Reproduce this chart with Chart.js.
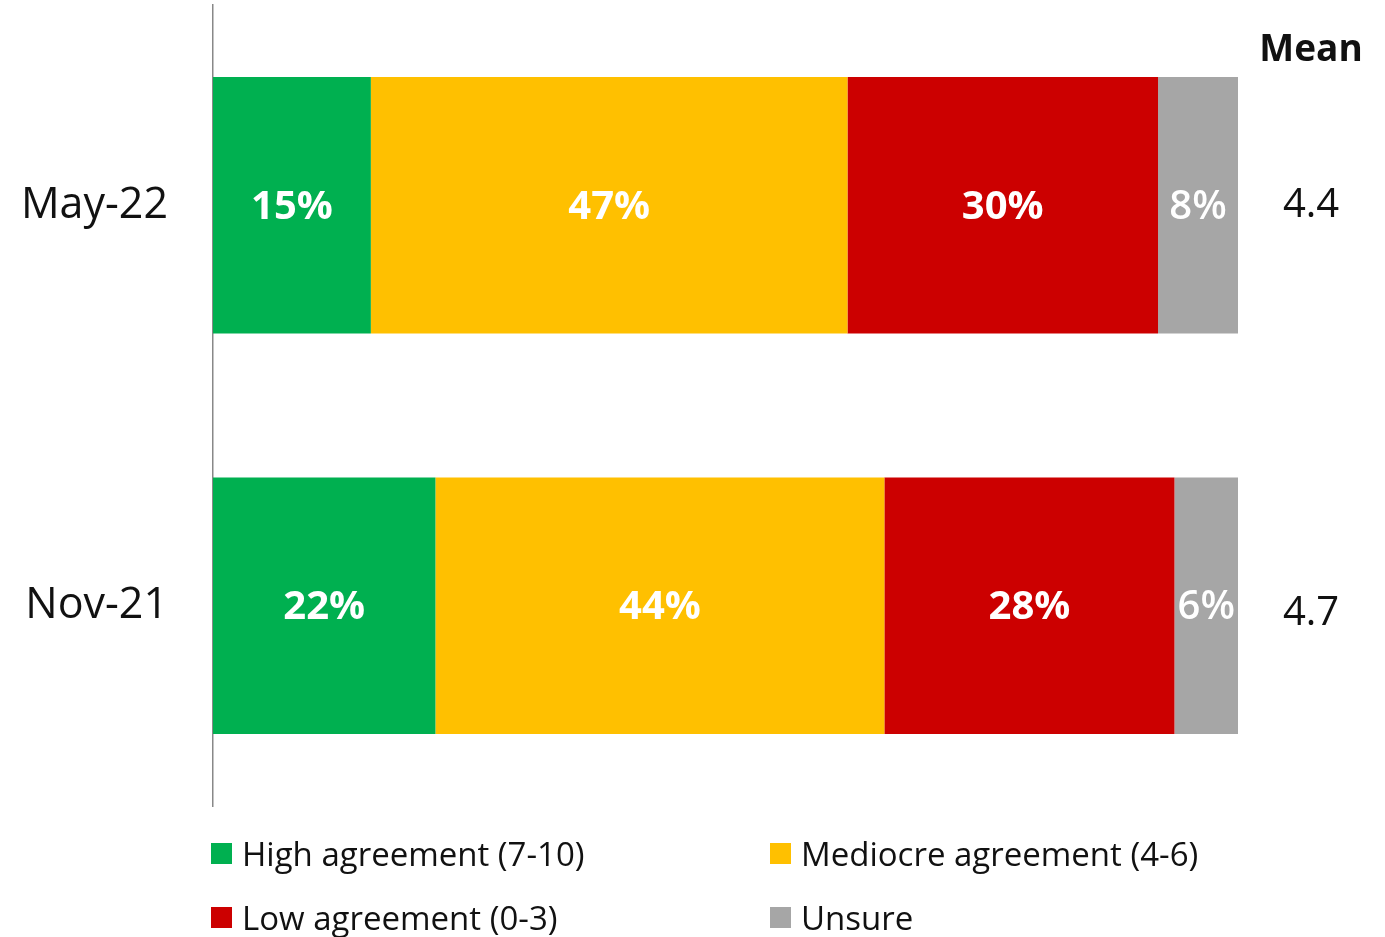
<!DOCTYPE html>
<html>
<head>
<meta charset="utf-8">
<script src="https://cdn.jsdelivr.net/npm/chart.js@4.4.1/dist/chart.umd.min.js"></script>
<style>
  html, body { margin: 0; padding: 0; background: #fff; }
  #wrap { position: relative; width: 1385px; height: 937px; }
  #legend { position: absolute; left: 211px; top: 831px; width: 1100px;
            font-family: "Open Sans", sans-serif; font-size: 33px; color: #111; }
  .item { position: absolute; display: flex; align-items: center; white-space: nowrap; }
  .box { width: 21px; height: 21px; margin-right: 10px; }
</style>
</head>
<body>
<div id="wrap">
  <canvas id="chart" width="1385" height="937"></canvas>
  <div id="legend"></div>
</div>
<script>
const categories = ['May-22', 'Nov-21'];
const seriesNames = ['High agreement (7-10)', 'Mediocre agreement (4-6)', 'Low agreement (0-3)', 'Unsure'];
const highValues = [15.4, 21.7];
const mediocreValues = [46.5, 43.8];
const lowValues = [30.3, 28.3];
const unsureValues = [7.8, 6.2];
const shownLabels = [[15, 22], [47, 44], [30, 28], [8, 6]];
const meanValues = ['4.4', '4.7'];
const colors = ['#00B050', '#FFC000', '#CC0000', '#A6A6A6'];

const seriesData = [highValues, mediocreValues, lowValues, unsureValues];

// labels inside the bars + the Mean column on the right
const labelPlugin = {
    id: 'barLabels',
    afterDatasetsDraw(chart) {
        const { ctx } = chart;
        ctx.save();
        ctx.textAlign = 'center';
        ctx.textBaseline = 'middle';
        chart.data.datasets.forEach((ds, i) => {
            const meta = chart.getDatasetMeta(i);
            meta.data.forEach((bar, j) => {
                const cx = (bar.x + bar.base) / 2;
                ctx.fillStyle = '#fff';
                ctx.font = (i == 3 ? '600 ' : 'bold ') + '40px "Open Sans"';
                ctx.fillText(shownLabels[i][j] + '%', cx, bar.y + 2);
            });
        });
        const meta0 = chart.getDatasetMeta(0);
        ctx.fillStyle = '#111';
        ctx.font = 'bold 37px "Open Sans"';
        ctx.fillText('Mean', 1311, 50);
        ctx.font = '40px "Open Sans"';
        meta0.data.forEach((bar, j) => {
            ctx.fillText(meanValues[j], 1311, bar.y + (j == 1 ? 8 : 0));
        });
        ctx.restore();
    }
};

new Chart(document.getElementById('chart'), {
    type: 'bar',
    data: {
        labels: categories,
        datasets: seriesNames.map((name, i) => ({
            label: name,
            data: seriesData[i],
            backgroundColor: colors[i],
            borderWidth: 0,
            barPercentage: 0.8,
            categoryPercentage: 0.8,
        })),
    },
    options: {
        indexAxis: 'y',
        responsive: false,
        animation: false,
        layout: { padding: { top: 5, bottom: 131, right: 147, left: 0 } },
        plugins: {
            legend: { display: false },
            tooltip: { enabled: false },
        },
        scales: {
            x: {
                stacked: true,
                min: 0,
                max: 100,
                display: false,
            },
            y: {
                stacked: true,
                grid: { display: false, drawTicks: false },
                border: { display: true, color: '#888', width: 1.5 },
                ticks: {
                    color: '#111',
                    padding: 45,
                    font: { family: 'Open Sans', size: 43 },
                },
                afterFit: (scale) => {
                    scale.width = 213;
                    scale.paddingTop = 0;
                    scale.paddingBottom = 0;
                },
            },
        },
    },
    plugins: [labelPlugin],
});

// html legend, two columns
const legendEl = document.getElementById('legend');
const pos = [[0, 0], [559, 0], [0, 64], [559, 64]];
seriesNames.forEach((name, i) => {
    const it = document.createElement('div');
    it.className = 'item';
    it.style.left = pos[i][0] + 'px';
    it.style.top = pos[i][1] + 'px';
    it.innerHTML = '<span class="box" style="background:' + colors[i] + '"></span>' + name;
    legendEl.appendChild(it);
});
</script>
</body>
</html>
